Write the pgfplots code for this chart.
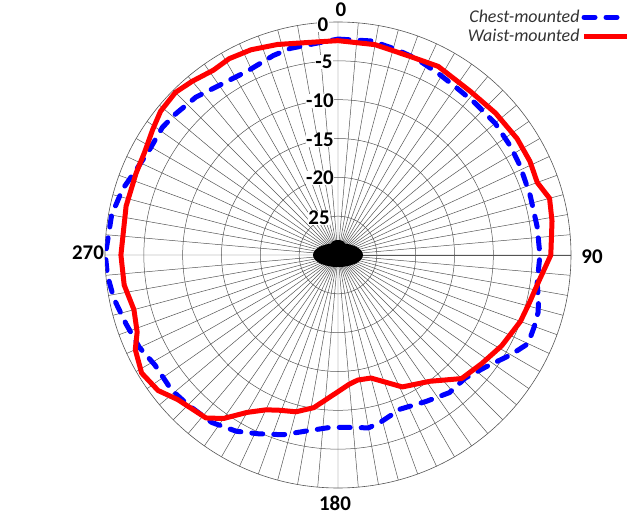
\documentclass[border=0pt]{standalone}
\usepackage{pgfplots}
\pgfplotsset{compat=1.18}
\usepgfplotslibrary{polar}
\usepackage{pgfplotstable}
\usepackage{fontspec}
\setmainfont{Carlito}
\definecolor{gridc}{HTML}{555555}
\definecolor{legtext}{HTML}{333333}
\definecolor{chestblue}{HTML}{0000FF}
\definecolor{waistred}{HTML}{FF0000}

% angle (deg, clockwise from top), gain (dB)
\pgfplotstableread{
a v
0 -2.2
9 -2.1
16 -2.5
22 -2.8
29 -3.3
35 -3.6
42 -3.65
50 -3.6
58 -3.75
64 -3.9
73 -4.1
82 -4.1
90 -4.0
98 -4.1
103 -3.5
106 -3.2
110 -3.1
115 -3.0
120 -4.3
127 -6.1
134 -7.2
141 -7.2
149 -8.0
158 -8.6
166 -7.75
170 -7.4
178 -7.8
183 -7.75
190 -7.0
197 -5.8
204 -4.8
210 -3.8
217 -3.0
225 -2.7
231 -2.4
239 -2.5
245 -1.8
252 -1.3
259 -0.6
265 -0.2
270 -0.05
280 -0.4
287 -1.0
293 -1.8
299 -2.2
306 -2.05
311 -2.3
318 -2.65
326 -3.4
334 -3.6
342 -3.0
347 -2.7
356 -2.5
360 -2.2
}\chest

\pgfplotstableread{
a v
0 -2.4
10 -2.5
20 -2.8
28 -2.5
39 -2.9
48 -2.7
57 -2.5
64 -2.5
70 -2.7
75 -1.8
81 -2.1
90 -2.6
98 -4.0
104 -4.6
110 -5.0
119 -5.9
127 -6.8
135 -7.5
144 -9.9
154 -11.1
165 -13.6
171 -13.7
175 -13.3
180 -12.4
189 -10.1
195 -9.1
201 -8.6
205 -8.0
210 -6.6
215 -4.3
219 -3.0
228 -2.2
233 -1.0
239 -0.5
245 -1.2
249 -2.3
255 -2.8
262 -2.2
270 -2.05
283 -2.0
292 -1.95
298 -1.8
304 -1.2
309 -0.6
315 -0.4
320 -0.8
326 -1.3
331 -1.1
337 -1.3
344 -1.8
353 -2.4
360 -2.4
}\waist

\begin{document}
\begin{tikzpicture}
\begin{polaraxis}[
  name=pa,
  scale only axis,
  width=466bp, height=466bp,
  xmin=0, xmax=360, ymin=0, ymax=30,
  xtick={0,5,...,355},
  ytick={5,10,...,25},
  xticklabel=\empty, yticklabel=\empty,
  major tick length=0pt,
  grid=major,
  major grid style={draw=gridc, line width=0.5bp},
  axis line style={draw=gridc, line width=0.6bp},
  legend cell align=right,
  legend plot pos=right,
  legend style={draw=none, fill=none, at={(1.126,1.03)}, anchor=north east,
    font=\itshape\fontsize{18}{20}\selectfont, text=legtext,
    row sep=1bp, inner sep=0pt},
  legend image code/.code={\draw[#1] (0bp,0bp) -- (43bp,0bp);},
]
\addplot[chestblue, line width=5bp, dash pattern=on 11bp off 11bp, line cap=round, line join=round]
  table[x expr={90-\thisrow{a}}, y expr={\thisrow{v}+30}] {\chest};
\addlegendentry{Chest-mounted}
\addplot[waistred, line width=5bp, line join=round]
  table[x expr={90-\thisrow{a}}, y expr={\thisrow{v}+30}] {\waist};
\addlegendentry{Waist-mounted}
\coordinate (O) at (axis cs:0,0);
\end{polaraxis}
\fill[black] (O) ellipse [x radius=25bp, y radius=12bp];
\fill[black] ([shift={(0bp,11bp)}]O) ellipse [x radius=7bp, y radius=4bp];
\begin{scope}[font=\bfseries\fontsize{21}{24}\selectfont]
\node at ([shift={(3bp,245bp)}]O) {0};
\node at ([shift={(254bp,-2bp)}]O) {90};
\node at ([shift={(-250bp,2bp)}]O) {270};
\node at ([shift={(-3bp,-248bp)}]O) {180};
\node[fill=white, inner sep=0.5bp] at ([shift={(-15bp,230bp)}]O) {0};
\node[fill=white, inner sep=0.5bp] at ([shift={(-14bp,193bp)}]O) {-5};
\node[fill=white, inner sep=0.5bp] at ([shift={(-18bp,154bp)}]O) {-10};
\node[fill=white, inner sep=0.5bp] at ([shift={(-18bp,115bp)}]O) {-15};
\node[fill=white, inner sep=0.5bp] at ([shift={(-18bp,77bp)}]O) {-20};
\node[fill=white, inner sep=0.5bp] at ([shift={(-19bp,37bp)}]O) {25};
\end{scope}
\pgfresetboundingbox
\path[use as bounding box] ([shift={(-338bp,255bp)}]O) rectangle ([shift={(295bp,-259bp)}]O);
\end{tikzpicture}
\end{document}
